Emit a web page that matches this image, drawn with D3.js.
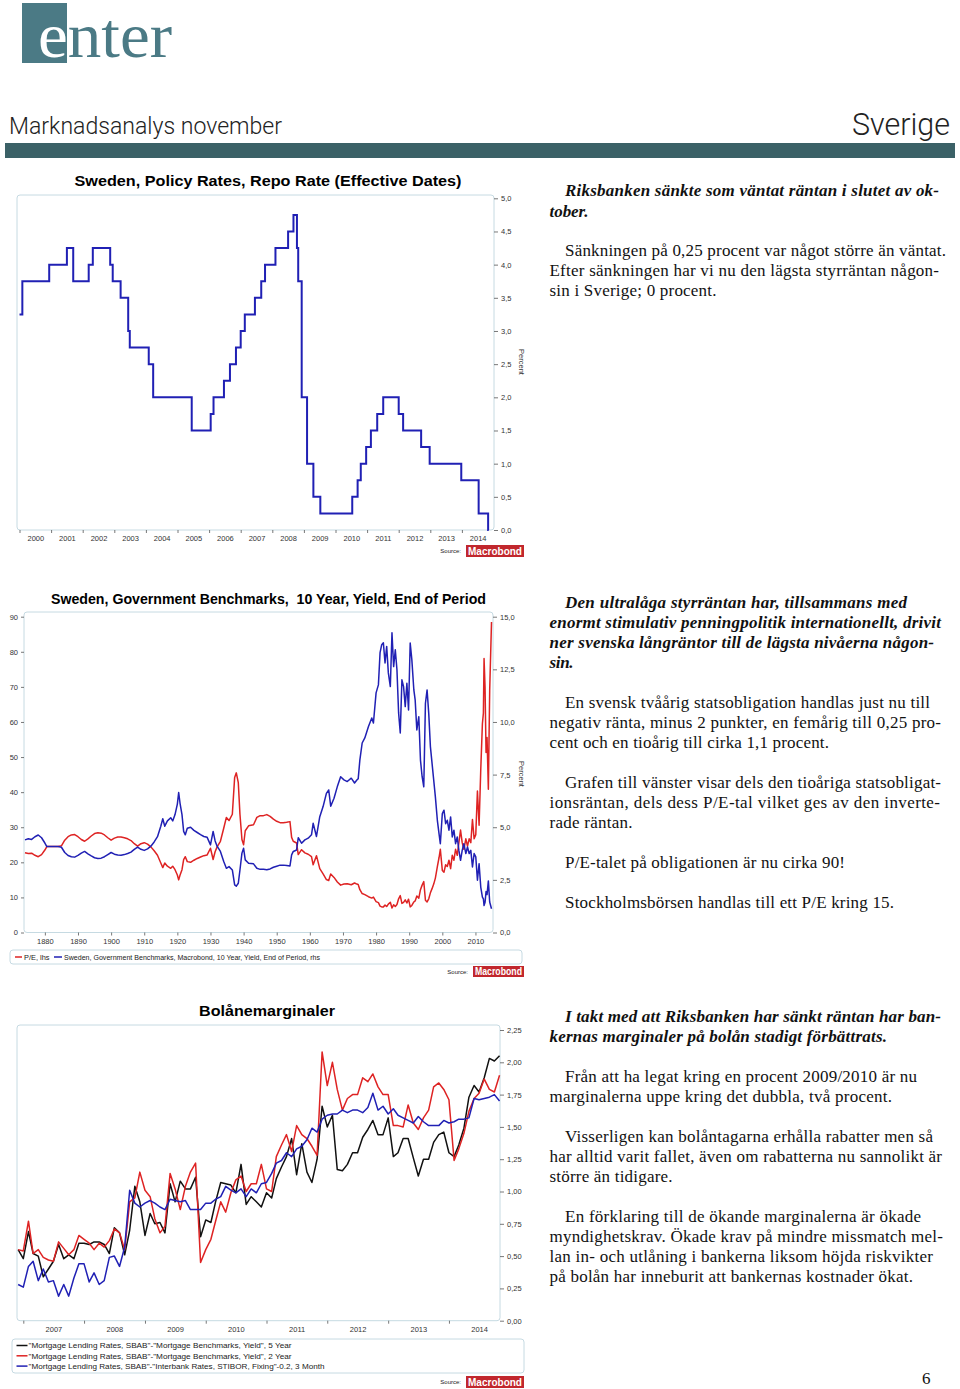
<!DOCTYPE html>
<html lang="sv"><head><meta charset="utf-8">
<script src="https://cdn.jsdelivr.net/npm/d3@7/dist/d3.min.js"></script>
<style>html,body{margin:0;padding:0;background:#fff}svg{display:block}text{white-space:pre}</style>
</head><body>
<svg id="page" width="960" height="1389" xmlns="http://www.w3.org/2000/svg"></svg>
<script>
// ---------------- DATA ----------------
// Chart 1: Sweden repo rate (effective dates, decimal years)
const repoDates = [2000.00,2000.09,2000.94,2001.50,2001.70,2002.19,2002.32,2002.87,2002.95,2003.20,2003.44,2003.49,2004.09,2004.23,2005.45,2006.05,2006.14,2006.47,2006.66,2006.85,2007.00,2007.13,2007.45,2007.65,2007.77,2008.10,2008.50,2008.67,2008.78,2008.82,2008.93,2009.10,2009.30,2009.52,2010.53,2010.70,2010.80,2010.97,2011.12,2011.32,2011.51,2012.00,2012.14,2012.71,2012.98,2013.98,2014.53,2014.83,2014.85];
const repoRates = [3.25,3.75,4.00,4.25,3.75,4.00,4.25,4.00,3.75,3.50,3.00,2.75,2.50,2.00,1.50,1.75,2.00,2.25,2.50,2.75,3.00,3.25,3.50,3.75,4.00,4.25,4.50,4.75,4.25,3.75,2.00,1.00,0.50,0.25,0.50,0.75,1.00,1.25,1.50,1.75,2.00,1.75,1.50,1.25,1.00,0.75,0.25,0.00,0.00];
const repoYTicks = [0,0.5,1,1.5,2,2.5,3,3.5,4,4.5,5];
const repoYears = [2000,2001,2002,2003,2004,2005,2006,2007,2008,2009,2010,2011,2012,2013,2014];

// Chart 2: 10Y government yield (rhs) and P/E (lhs)
const bondYears = [1874.0,1875,1876,1877,1878,1879,1880,1880.6,1882,1883,1884,1885,1886,1887,1888,1889,1890,1891,1892,1893,1894,1895,1896,1897,1898,1899,1900,1901,1902,1903,1904,1905,1906,1907,1908,1909,1910,1911,1912,1913,1914,1915,1915.6,1916.2,1917,1918,1918.6,1919.3,1920,1920.4,1920.8,1921.4,1921.9,1922.4,1923,1924,1925,1926,1927,1928,1929,1930,1930.8,1931.4,1932,1933,1934,1934.8,1935.6,1936.6,1937.3,1937.8,1938.4,1938.9,1939.5,1940,1940.5,1941.5,1943,1944,1945,1946,1947,1948,1949,1950,1951,1952,1953,1954,1954.5,1955,1956,1956.5,1957.5,1958.5,1959.5,1960.5,1961,1962,1963,1964,1965,1965.7,1966.3,1967.3,1968.3,1969.3,1970.3,1971.3,1972.5,1973.5,1974.2,1974.6,1975.1,1975.8,1976.6,1977.7,1978.7,1979.2,1980.0,1980.7,1981.2,1981.7,1982.2,1982.7,1983.2,1983.7,1984.3,1984.8,1985.3,1985.8,1986.3,1986.8,1987.3,1987.8,1988.3,1988.8,1989.3,1989.8,1990.3,1990.8,1991.4,1991.8,1992.3,1992.9,1993.4,1993.9,1994.4,1994.9,1995.4,1995.9,1996.4,1996.9,1997.4,1997.9,1998.5,1999.0,1999.4,2000.0,2000.5,2001.0,2001.5,2002.0,2002.5,2003.0,2003.5,2004.0,2004.5,2005.0,2005.5,2006.0,2006.5,2007.1,2007.6,2008.1,2008.6,2009.1,2009.6,2010.1,2010.6,2011.1,2011.6,2012.1,2012.4,2012.6,2012.9,2013.2,2013.5,2013.9,2014.3,2014.85];
const bondYield = [4.40,4.45,4.42,4.55,4.63,4.50,4.25,4.08,4.08,4.08,4.08,4.05,3.80,3.66,3.60,3.58,3.66,3.77,3.85,3.74,3.64,3.55,3.52,3.53,3.60,3.70,3.80,3.72,3.68,3.67,3.70,3.75,3.82,3.95,4.06,3.95,3.90,3.97,4.10,4.30,4.55,5.05,5.40,5.05,5.30,5.45,5.30,5.60,6.10,6.65,6.15,5.60,4.80,4.64,4.95,5.00,4.85,4.75,4.65,4.56,4.52,4.16,4.80,4.35,4.10,3.85,3.37,3.05,3.13,2.97,2.26,2.20,2.34,2.97,3.77,4.00,3.45,3.29,3.26,3.05,3.00,3.00,2.98,3.02,3.10,3.15,3.20,3.20,3.18,3.16,3.69,3.85,3.92,4.50,4.24,4.40,4.48,4.64,5.19,4.56,5.50,5.98,6.61,6.77,6.00,6.38,6.93,7.40,7.25,7.17,7.33,7.10,7.24,7.30,8.19,9.00,9.24,9.78,10.19,9.95,11.38,11.76,13.29,13.67,13.76,12.80,13.59,12.33,11.68,14.24,12.63,13.43,12.48,10.43,9.48,12.00,11.68,10.73,11.84,10.57,13.75,12.95,11.52,11.05,9.62,10.25,8.19,7.40,6.92,10.89,11.52,10.41,8.83,8.03,7.24,6.44,5.33,4.70,4.22,5.65,5.81,5.17,5.33,4.86,5.49,4.54,4.86,4.22,4.54,3.90,3.43,3.90,4.22,3.75,4.06,3.75,3.90,3.11,3.75,3.59,2.48,3.27,2.16,1.68,1.60,1.28,1.43,1.95,1.80,2.45,1.45,1.13];
const bondPE = [22.7,22.5,22.6,22.0,21.6,22.2,23.5,24.5,24.5,24.5,24.5,24.7,26.3,27.3,27.8,27.9,27.3,26.5,26.0,26.7,27.5,28.2,28.4,28.3,27.8,27.0,26.3,26.9,27.2,27.2,27.0,26.7,26.2,25.3,24.6,25.3,25.6,25.2,24.4,23.3,22.0,19.8,18.5,19.8,18.9,18.3,18.9,17.9,16.4,15.0,16.3,17.9,20.8,21.6,20.2,20.0,20.6,21.1,21.5,21.9,22.1,24.0,20.8,23.0,24.4,26.0,29.7,32.8,31.9,33.7,44.2,45.5,42.7,33.7,26.5,25.0,29.0,30.4,30.7,32.8,33.3,33.3,33.6,33.1,32.3,31.7,31.3,31.3,31.4,31.6,27.1,26.0,25.5,22.2,23.6,22.7,22.3,21.6,19.3,21.9,18.2,16.7,15.1,14.8,16.7,15.7,14.4,13.5,13.8,13.9,13.6,14.1,13.8,13.7,12.2,11.1,10.8,10.2,9.8,10.1,8.8,8.5,7.5,7.3,7.3,7.8,7.4,8.1,8.6,7.0,7.9,7.4,8.0,9.6,10.5,8.3,8.6,9.3,8.4,9.5,7.3,7.7,8.7,9.0,10.4,9.8,12.2,13.5,14.5,9.2,8.7,9.6,11.3,12.5,13.8,15.5,18.8,21.3,23.7,17.7,17.2,19.3,18.8,20.6,18.2,22.0,20.6,23.7,22.0,25.6,29.2,25.6,23.7,26.7,24.6,26.7,25.6,32.2,26.7,27.9,40.3,30.6,46.3,59.5,62.5,78.1,69.9,51.3,55.6,40.8,69.0,88.5];
const peTicks = [0,10,20,30,40,50,60,70,80,90];
const yieldTicks = [0,2.5,5,7.5,10,12.5,15];
const decadeTicks = [1880,1890,1900,1910,1920,1930,1940,1950,1960,1970,1980,1990,2000,2010];

// Chart 3: mortgage margins, monthly Dec 2006 - Nov 2014
const marginMonths = d3.timeMonth.range(new Date(2006,11,1), new Date(2014,11,1));
const margin5y = [0.55,0.48,0.69,0.52,0.50,0.34,0.40,0.46,0.59,0.48,
 0.51,0.48,0.60,0.60,0.59,0.61,0.61,0.59,0.52,0.72,
 0.68,0.51,0.70,1.04,0.92,0.66,0.83,0.75,0.76,0.68,
 1.06,0.92,1.08,1.02,1.02,1.11,0.65,0.78,0.76,0.92,
 1.07,1.06,1.05,0.99,1.21,0.90,0.96,0.92,0.88,0.99,
 0.95,1.10,1.19,1.27,1.41,1.13,1.37,1.15,1.07,1.25,
 1.66,1.50,1.59,1.17,1.16,1.21,1.30,1.30,1.42,1.48,
 1.55,1.44,1.44,1.57,1.27,1.30,1.41,1.41,1.26,1.12,
 1.25,1.25,1.38,1.44,1.46,1.30,1.27,1.36,1.49,1.73,
 1.82,1.77,1.88,2.03,2.01,2.05];
const margin2y = [0.55,0.54,0.77,0.52,0.55,0.49,0.47,0.46,0.61,0.56,
 0.51,0.55,0.66,0.63,0.60,0.55,0.60,0.57,0.62,0.71,
 0.68,0.55,0.92,0.95,1.15,1.01,0.96,0.79,0.68,0.73,
 1.14,1.02,0.86,1.04,1.15,1.22,0.45,0.55,0.63,0.77,
 0.92,0.84,0.99,1.09,1.12,1.00,1.06,1.06,1.21,1.02,
 1.00,1.27,1.36,1.44,1.31,1.51,1.44,1.41,1.35,1.28,
 2.08,1.82,2.00,1.79,1.63,1.72,1.75,1.75,1.88,1.85,
 1.91,1.81,1.75,1.75,1.51,1.51,1.50,1.67,1.53,1.48,
 1.57,1.63,1.81,1.84,1.79,1.71,1.24,1.33,1.45,1.62,
 1.72,1.76,1.87,1.79,1.77,1.90];
const marginStibor = [0.28,0.26,0.42,0.46,0.31,0.40,0.30,0.31,0.19,0.28,
 0.19,0.33,0.44,0.44,0.30,0.37,0.28,0.31,0.49,0.50,
 0.42,0.57,1.01,0.91,0.88,0.91,0.93,0.91,0.88,0.86,
 0.94,0.93,0.92,0.93,0.86,0.86,0.86,0.91,0.91,0.94,
 0.96,1.04,1.01,0.99,1.02,0.96,1.02,0.99,1.06,1.07,
 1.14,1.22,1.24,1.30,1.27,1.33,1.35,1.40,1.49,1.46,
 1.56,1.59,1.60,1.60,1.63,1.61,1.63,1.63,1.61,1.65,
 1.76,1.63,1.66,1.60,1.64,1.59,1.57,1.55,1.53,1.58,
 1.54,1.51,1.51,1.51,1.55,1.53,1.54,1.56,1.56,1.57,
 1.72,1.71,1.72,1.73,1.75,1.70];
const marginTicks = [0,0.25,0.5,0.75,1,1.25,1.5,1.75,2,2.25];
const marginYears = [2007,2008,2009,2010,2011,2012,2013,2014];
const marginLegend = [
  '"Mortgage Lending Rates, SBAB"-"Mortgage Benchmarks, Yield", 5 Year',
  '"Mortgage Lending Rates, SBAB"-"Mortgage Benchmarks, Yield", 2 Year',
  '"Mortgage Lending Rates, SBAB"-"Interbank Rates, STIBOR, Fixing"-0.2, 3 Month'
];

// ---------------- DRAWING ----------------
const svg = d3.select("#page");
const SANS = "'Liberation Sans', Arial, Helvetica, sans-serif";
const SERIF = "'Liberation Serif', 'Times New Roman', serif";
const loc = d3.formatLocale({decimal: ",", thousands: "\u00a0", grouping: [3], currency: ["", " kr"]});
const fmt1 = loc.format(".1f"), fmt2 = loc.format(".2f");
const FRAME = "#c6dae2", AX = "#555", BLUE = "#2020b4", RED = "#de2323", BLACK = "#111";
const TEAL = "#4b7a85";

function styleAxis(g) {
  g.select(".domain").remove();
  g.selectAll(".tick line").attr("stroke", AX).attr("stroke-width", 0.8);
  g.selectAll("text").attr("font-family", SANS).attr("font-size", 7.5).attr("fill", "#333");
}
function frame(x0, y0, x1, y1) {
  svg.append("rect").attr("x", x0).attr("y", y0).attr("width", x1 - x0).attr("height", y1 - y0)
    .attr("rx", 3).attr("fill", "none").attr("stroke", FRAME).attr("stroke-width", 1);
}
function title(t, cx, y, w) {
  svg.append("text").attr("x", cx).attr("y", y).attr("text-anchor", "middle")
    .attr("font-family", SANS).attr("font-weight", "bold").attr("font-size", 14)
    .attr("textLength", w).attr("lengthAdjust", "spacingAndGlyphs").attr("fill", "#000").text(t);
}
function sourceTag(x0, x1, y0, y1) {
  svg.append("text").attr("x", x0 - 5).attr("y", (y0 + y1) / 2 + 2).attr("text-anchor", "end")
    .attr("font-family", SANS).attr("font-size", 6).attr("fill", "#222").text("Source:");
  svg.append("rect").attr("x", x0).attr("y", y0).attr("width", x1 - x0).attr("height", y1 - y0).attr("fill", "#c1272d");
  svg.append("text").attr("x", (x0 + x1) / 2).attr("y", y1 - 1.8).attr("text-anchor", "middle")
    .attr("font-family", SANS).attr("font-weight", "bold").attr("font-size", (y1 - y0) - 0.5)
    .attr("fill", "#fff").attr("textLength", x1 - x0 - 4).attr("lengthAdjust", "spacingAndGlyphs").text("Macrobond");
}
function percentLabel(x, y) {
  svg.append("text").attr("transform", `translate(${x},${y}) rotate(90)`).attr("text-anchor", "middle")
    .attr("font-family", SANS).attr("font-size", 7.5).attr("fill", "#333").text("Percent");
}

// ---- Header ----
svg.append("rect").attr("x", 22).attr("y", 3).attr("width", 45).attr("height", 60).attr("fill", TEAL);
const logo = svg.append("text").attr("x", 38).attr("y", 57).attr("font-family", SERIF).attr("font-size", 64)
  .attr("textLength", 134).attr("lengthAdjust", "spacingAndGlyphs");
logo.append("tspan").attr("fill", "#fff").text("e");
logo.append("tspan").attr("fill", TEAL).text("nter");
svg.append("text").attr("x", 9).attr("y", 134).attr("font-family", "Roboto, 'Liberation Sans', sans-serif")
  .attr("font-weight", 300).attr("font-size", 24).attr("fill", "#222")
  .attr("textLength", 273).attr("lengthAdjust", "spacingAndGlyphs").text("Marknadsanalys november");
svg.append("text").attr("x", 950).attr("y", 135).attr("text-anchor", "end")
  .attr("font-family", "Roboto, 'Liberation Sans', sans-serif").attr("font-weight", 300).attr("font-size", 31)
  .attr("fill", "#222").attr("textLength", 98).attr("lengthAdjust", "spacingAndGlyphs").text("Sverige");
svg.append("rect").attr("x", 5).attr("y", 143).attr("width", 950).attr("height", 15).attr("fill", "#3b6167");

// ---- Chart 1 ----
const x1 = d3.scaleLinear().domain([2000, 2015]).range([19.5, 493.5]);
const y1 = d3.scaleLinear().domain([0, 5]).range([530, 198.3]);
frame(17, 195, 494, 530);
title("Sweden, Policy Rates, Repo Rate (Effective Dates)", 268, 186, 387);
svg.append("path").datum(d3.zip(repoDates, repoRates))
  .attr("d", d3.line().x(d => x1(d[0])).y(d => y1(d[1])).curve(d3.curveStepAfter))
  .attr("fill", "none").attr("stroke", BLUE).attr("stroke-width", 2);
svg.append("g").attr("transform", "translate(494,0)")
  .call(d3.axisRight(y1).tickValues(repoYTicks).tickSize(4).tickPadding(3).tickFormat(fmt1)).call(styleAxis);
svg.append("g").attr("transform", "translate(0,530)")
  .call(d3.axisBottom(x1).tickValues(repoYears).tickSize(3).tickFormat("")).call(styleAxis);
svg.append("g").attr("transform", "translate(0,530)")
  .call(d3.axisBottom(x1).tickValues(repoYears.map(y => y + 0.5)).tickSize(0).tickPadding(6).tickFormat(d => String(Math.floor(d))))
  .call(styleAxis);
percentLabel(519, 362);
sourceTag(466, 524, 545, 557);

// ---- Chart 2 ----
const x2 = d3.scaleLinear().domain([1873.7, 2015.3]).range([24, 493]);
const y2L = d3.scaleLinear().domain([0, 90]).range([932.5, 616.7]);
const y2R = d3.scaleLinear().domain([0, 15]).range([932.5, 616.7]);
frame(24, 612, 493, 932.5);
title("Sweden, Government Benchmarks,\u00a0 10 Year, Yield, End of Period", 268.5, 604, 435);
svg.append("path").datum(d3.zip(bondYears, bondPE))
  .attr("d", d3.line().x(d => x2(d[0])).y(d => y2L(d[1])))
  .attr("fill", "none").attr("stroke", RED).attr("stroke-width", 1.5).attr("stroke-linejoin", "round");
svg.append("path").datum(d3.zip(bondYears, bondYield))
  .attr("d", d3.line().x(d => x2(d[0])).y(d => y2R(d[1])))
  .attr("fill", "none").attr("stroke", BLUE).attr("stroke-width", 1.5).attr("stroke-linejoin", "round");
svg.append("g").attr("transform", "translate(24,0)")
  .call(d3.axisLeft(y2L).tickValues(peTicks).tickSize(3).tickPadding(3).tickFormat(d3.format("d"))).call(styleAxis);
svg.append("g").attr("transform", "translate(493,0)")
  .call(d3.axisRight(y2R).tickValues(yieldTicks).tickSize(4).tickPadding(3).tickFormat(fmt1)).call(styleAxis);
svg.append("g").attr("transform", "translate(0,932.5)")
  .call(d3.axisBottom(x2).tickValues(decadeTicks).tickSize(3).tickPadding(3).tickFormat(d3.format("d"))).call(styleAxis);
percentLabel(519, 774);
// legend
frame(10, 950, 522, 964);
svg.append("line").attr("x1", 15).attr("x2", 22).attr("y1", 957).attr("y2", 957).attr("stroke", RED).attr("stroke-width", 1.5);
svg.append("text").attr("x", 24).attr("y", 959.5).attr("font-family", SANS).attr("font-size", 7).attr("fill", "#222")
  .attr("textLength", 25.5).attr("lengthAdjust", "spacingAndGlyphs").text("P/E, lhs");
svg.append("line").attr("x1", 54).attr("x2", 62).attr("y1", 957).attr("y2", 957).attr("stroke", BLUE).attr("stroke-width", 1.5);
svg.append("text").attr("x", 64).attr("y", 959.5).attr("font-family", SANS).attr("font-size", 7).attr("fill", "#222")
  .attr("textLength", 256).attr("lengthAdjust", "spacingAndGlyphs")
  .text("Sweden, Government Benchmarks, Macrobond, 10 Year, Yield, End of Period, rhs");
sourceTag(473, 524, 966, 977);

// ---- Chart 3 ----
const x3 = d3.scaleTime().domain([new Date(2007, 0, 1), new Date(2015, 0, 1)]).range([23.3, 509.7]);
const y3 = d3.scaleLinear().domain([0, 2.25]).range([1320.7, 1030]);
frame(17, 1025, 500, 1320.7);
title("Bolånemarginaler", 267, 1016, 136);
const line3 = d3.line().x(d => x3(d[0])).y(d => y3(d[1]));
[[margin5y, BLACK], [margin2y, RED], [marginStibor, BLUE]].forEach(([vals, col]) => {
  svg.append("path").datum(d3.zip(marginMonths, vals)).attr("d", line3)
    .attr("fill", "none").attr("stroke", col).attr("stroke-width", 1.5).attr("stroke-linejoin", "round");
});
svg.append("g").attr("transform", "translate(500,0)")
  .call(d3.axisRight(y3).tickValues(marginTicks).tickSize(4).tickPadding(3).tickFormat(fmt2)).call(styleAxis);
svg.append("g").attr("transform", "translate(0,1320.7)")
  .call(d3.axisBottom(x3).tickValues(marginYears.map(y => new Date(y, 0, 1))).tickSize(3).tickFormat("")).call(styleAxis);
svg.append("g").attr("transform", "translate(0,1320.7)")
  .call(d3.axisBottom(x3).tickValues(marginYears.map(y => new Date(y, 6, 1))).tickSize(0).tickPadding(6)
    .tickFormat(d3.timeFormat("%Y"))).call(styleAxis);
frame(12, 1339, 524, 1373);
const legCols = [BLACK, RED, BLUE];
const legW = [263, 263, 296];
marginLegend.forEach((t, i) => {
  const yy = 1345.5 + i * 10.3;
  svg.append("line").attr("x1", 16.5).attr("x2", 27.5).attr("y1", yy).attr("y2", yy).attr("stroke", legCols[i]).attr("stroke-width", 1.5);
  svg.append("text").attr("x", 28.5).attr("y", yy + 2.8).attr("font-family", SANS).attr("font-size", 8).attr("fill", "#222")
    .attr("textLength", legW[i]).attr("lengthAdjust", "spacingAndGlyphs").text(t);
});
sourceTag(466, 524, 1376, 1388);

// ---- Right-hand commentary ----
const lines = [
  ["Riksbanken sänkte som väntat räntan i slutet av ok-", 565, 196, 374, 1],
  ["tober.", 549.5, 217, 39, 1],
  ["Sänkningen på 0,25 procent var något större än väntat.", 565, 256, 381, 0],
  ["Efter sänkningen har vi nu den lägsta styrräntan någon-", 549.5, 276, 389.5, 0],
  ["sin i Sverige; 0 procent.", 549.5, 296, 167, 0],
  ["Den ultralåga styrräntan har, tillsammans med", 565, 608, 342, 1],
  ["enormt stimulativ penningpolitik internationellt, drivit", 549.5, 628, 391.5, 1],
  ["ner svenska långräntor till de lägsta nivåerna någon-", 549.5, 648, 384.5, 1],
  ["sin.", 549.5, 668, 24, 1],
  ["En svensk tvåårig statsobligation handlas just nu till", 565, 708, 365, 0],
  ["negativ ränta, minus 2 punkter, en femårig till 0,25 pro-", 549.5, 728, 391.5, 0],
  ["cent och en tioårig till cirka 1,1 procent.", 549.5, 748, 279.5, 0],
  ["Grafen till vänster visar dels den tioåriga statsobligat-", 565, 788, 376, 0],
  ["ionsräntan, dels dess P/E-tal vilket ges av den inverte-", 549.5, 808, 390.5, 0],
  ["rade räntan.", 549.5, 828, 83, 0],
  ["P/E-talet på obligationen är nu cirka 90!", 565, 868, 280, 0],
  ["Stockholmsbörsen handlas till ett P/E kring 15.", 565, 908, 329, 0],
  ["I takt med att Riksbanken har sänkt räntan har ban-", 565, 1022, 376, 1],
  ["kernas marginaler på bolån stadigt förbättrats.", 549.5, 1042, 337.5, 1],
  ["Från att ha legat kring en procent 2009/2010 är nu", 565, 1082, 352, 0],
  ["marginalerna uppe kring det dubbla, två procent.", 549.5, 1102, 342.5, 0],
  ["Visserligen kan bolåntagarna erhålla rabatter men så", 565, 1142, 368, 0],
  ["har alltid varit fallet, även om rabatterna nu sannolikt är", 549.5, 1162, 392.5, 0],
  ["större än tidigare.", 549.5, 1182, 123, 0],
  ["En förklaring till de ökande marginalerna är ökade", 565, 1222, 356, 0],
  ["myndighetskrav. Ökade krav på mindre missmatch mel-", 549.5, 1242, 393.5, 0],
  ["lan in- och utlåning i bankerna liksom höjda riskvikter", 549.5, 1262, 383.5, 0],
  ["på bolån har inneburit att bankernas kostnader ökat.", 549.5, 1282, 363.5, 0]
];
lines.forEach(([t, x, y, w, b]) => {
  const el = svg.append("text").attr("x", x).attr("y", y).attr("font-family", SERIF).attr("font-size", 17)
    .attr("fill", "#111").attr("textLength", w).attr("lengthAdjust", "spacing").text(t);
  if (b) el.attr("font-weight", "bold").attr("font-style", "italic");
});
svg.append("text").attr("x", 922).attr("y", 1384).attr("font-family", SERIF).attr("font-size", 17).attr("fill", "#111").text("6");
</script>
</body></html>
